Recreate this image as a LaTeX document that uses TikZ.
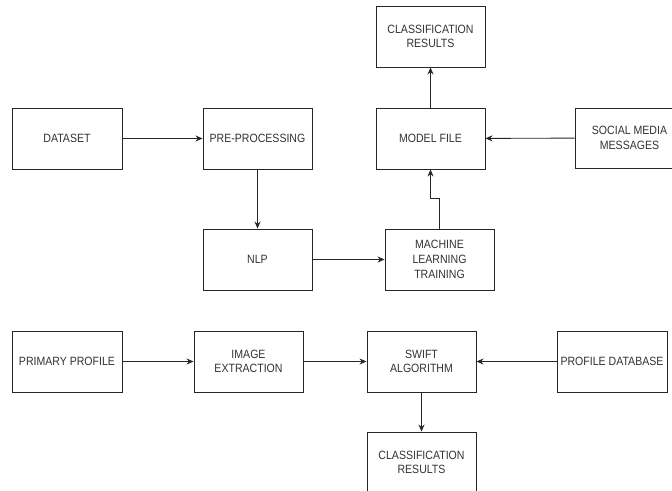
\documentclass[tikz,border=0pt]{standalone}
\usepackage{fontspec}
\setmainfont{Liberation Sans}[FakeStretch=0.88]
\usetikzlibrary{arrows.meta}
\definecolor{txtcol}{HTML}{333333}
\definecolor{strokecol}{HTML}{262626}
\begin{document}
\begin{tikzpicture}[>={Stealth[length=7bp,width=6bp]},line join=miter,
  blk/.style={rectangle, draw=strokecol, line width=0.9bp, minimum width=109bp, minimum height=61bp,
    inner sep=0pt, align=center, text=txtcol, font=\fontsize{12bp}{14.7bp}\selectfont},
  flow/.style={->, draw=strokecol, line width=0.9bp} ]
\useasboundingbox (0bp,0bp) rectangle (672bp,-491bp);
%%
  % Node: results (top)
  \node [blk] (res1) at (430.5bp,-36.5bp) {CLASSIFICATION\\RESULTS};
  % Node: dataset
  \node [blk, minimum width=110bp] (dataset) at (67bp,-138.5bp) {DATASET};
  % Node: preprocessing
  \node [blk] (prep) at (257.5bp,-138.5bp) {PRE-PROCESSING};
  % Node: model file
  \node [blk] (model) at (430.5bp,-138.5bp) {MODEL FILE};
  % Node: social media
  \node [blk, minimum height=60bp] (social) at (629.5bp,-138bp) {SOCIAL MEDIA\\MESSAGES};
  % Node: nlp
  \node [blk] (nlp) at (257.5bp,-259.5bp) {NLP};
  % Node: training
  \node [blk] (mlt) at (439.5bp,-259.5bp) {MACHINE\\LEARNING\\TRAINING};
  % Node: primary profile
  \node [blk, minimum width=110bp] (primary) at (67bp,-361.5bp) {PRIMARY PROFILE};
  % Node: image extraction
  \node [blk] (imgex) at (248.5bp,-361.5bp) {IMAGE\\EXTRACTION};
  % Node: swift
  \node [blk] (swift) at (421.5bp,-361.5bp) {SWIFT\\ALGORITHM};
  % Node: profile database
  \node [blk, minimum width=110bp] (profdb) at (612bp,-361.5bp) {PROFILE DATABASE};
  % Node: results (bottom)
  \node [blk] (res2) at (421.5bp,-462.5bp) {CLASSIFICATION\\RESULTS};
%%
  % Edge: dataset -> prep
  \draw [flow] (dataset) -- (prep);
  % Edge: prep -> nlp
  \draw [flow] (prep) -- (nlp);
  % Edge: nlp -> mlt
  \draw [flow] (nlp) -- (mlt);
  % Edge: mlt -> model
  \draw [flow] (mlt.north) -- ++(0bp,30bp) -| (model.south);
  % Edge: model -> res1
  \draw [flow] (model) -- (res1);
  % Edge: social -> model
  \draw [flow] (social) -- (model);
  % Edge: primary -> imgex
  \draw [flow] (primary) -- (imgex);
  % Edge: imgex -> swift
  \draw [flow] (imgex) -- (swift);
  % Edge: profdb -> swift
  \draw [flow] (profdb) -- (swift);
  % Edge: swift -> res2
  \draw [flow] (swift) -- (res2);
%
\end{tikzpicture}
\end{document}
